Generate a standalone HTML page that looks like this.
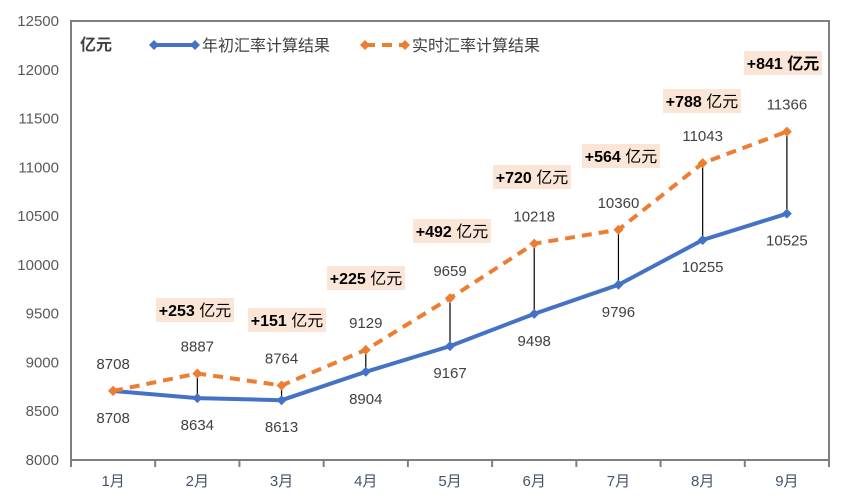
<!DOCTYPE html>
<html><head><meta charset="utf-8"><style>
body{margin:0;background:#fff;}
svg text{font-family:"Liberation Sans","Noto Sans CJK SC",sans-serif;}
</style></head><body>
<svg id="chart" width="855" height="499" xmlns="http://www.w3.org/2000/svg">
<rect x="0" y="0" width="855" height="499" fill="#fff"/>
<g id="grid"></g>
<g id="marks"></g>
</svg>
<script>
const categories=["1月","2月","3月","4月","5月","6月","7月","8月","9月"];
const initialRate=[8708,8634,8613,8904,9167,9498,9796,10255,10525];
const realtimeRate=[8708,8887,8764,9129,9659,10218,10360,11043,11366];
const diffLabels=["","+253","+151","+225","+492","+720","+564","+788","+841"];
const yTicks=[8000,8500,9000,9500,10000,10500,11000,11500,12000,12500];
const NS="http://www.w3.org/2000/svg";
const L=71,R=829,T=21,B=460,ymin=8000,ymax=12500;
const bw=(R-L)/categories.length;
const xs=i=>L+bw*(i+0.5);
const ys=v=>B-(v-ymin)/(ymax-ymin)*(B-T);
const svg=document.getElementById('marks');
function el(tag,attrs,parent){const e=document.createElementNS(NS,tag);for(const k in attrs)e.setAttribute(k,attrs[k]);(parent||svg).appendChild(e);return e;}
// frame
const frame=el('rect',{x:L,y:T,width:R-L,height:B-T,fill:'none',stroke:'#7f7f7f','stroke-width':2});


yTicks.forEach(v=>{
  const t=el('text',{x:L-12,y:ys(v)+5,'text-anchor':'end','font-size':15,fill:'#595959'});
  t.textContent=v;
  
  
});
for(let i=0;i<=categories.length;i++){
  const tk=el('line',{x1:L+bw*i,x2:L+bw*i,y1:B,y2:B+7,stroke:'#7f7f7f','stroke-width':2});
  
  
}
categories.forEach((c,i)=>{
  const t=el('text',{x:xs(i),y:B+26,'text-anchor':'middle','font-size':15,fill:'#44546a'});
  t.textContent=c;
  
  
});
// diff lines
categories.forEach((c,i)=>{
  if(realtimeRate[i]===initialRate[i])return;
  const d=el('line',{x1:xs(i),x2:xs(i),y1:ys(initialRate[i]),y2:ys(realtimeRate[i]),stroke:'#000','stroke-width':1.2});
  
  
});
function series(vals,color,dash,name){
  const p=el('polyline',{points:vals.map((v,i)=>xs(i)+','+ys(v)).join(' '),fill:'none',stroke:color,'stroke-width':4,'stroke-dasharray':dash||'none'});
  
  
  vals.forEach((v,i)=>{
    const x=xs(i),y=ys(v);
    const m=el('polygon',{points:`${x},${y-5} ${x+5},${y} ${x},${y+5} ${x-5},${y}`,fill:color});
    
    
  });
}
series(initialRate,'#4472c4',null,'initial-rate');
series(realtimeRate,'#ed7d31','10 7','realtime-rate');
initialRate.forEach((v,i)=>{
  const t=el('text',{x:xs(i),y:ys(v)+32,'text-anchor':'middle','font-size':15,fill:'#404040'});
  t.textContent=v;
  
  
});
realtimeRate.forEach((v,i)=>{
  const t=el('text',{x:xs(i),y:ys(v)-22,'text-anchor':'middle','font-size':15,fill:'#404040'});
  t.textContent=v;
  
  
});
// annotation positions (layout)
const annX=[0,195,287,366,452,532,621,702,783];
const annY=[0,310,320,278,231,177,156,101,63];
diffLabels.forEach((s,i)=>{
  if(!s)return;
  const g=el('g',{});
  
  
  el('rect',{x:annX[i]-39,y:annY[i]-12,width:78,height:24,fill:'#fbe5d6'},g);
  const t=el('text',{x:annX[i],y:annY[i]+6,'text-anchor':'middle','font-size':16,fill:'#000'},g);
  const b=el('tspan',{'font-weight':'bold'},t);b.textContent=s;
  const u=el('tspan',{'font-weight':i===8?'bold':'normal'},t);u.textContent=' 亿元';
});
// unit + legend
const unit=el('text',{x:80,y:50,'font-size':16,'font-weight':'bold',fill:'#404040'});
unit.textContent='亿元';


const lg1=el('g',{});


el('line',{x1:154,x2:195,y1:45,y2:45,stroke:'#4472c4','stroke-width':4},lg1);
el('polygon',{points:'154,40 159,45 154,50 149,45',fill:'#4472c4'},lg1);
el('polygon',{points:'195,40 200,45 195,50 190,45',fill:'#4472c4'},lg1);
const lt1=el('text',{x:202,y:51,'font-size':16,fill:'#404040'},lg1);lt1.textContent='年初汇率计算结果';
const lg2=el('g',{});


el('line',{x1:365,x2:405,y1:45,y2:45,stroke:'#ed7d31','stroke-width':4,'stroke-dasharray':'10 7'},lg2);
el('polygon',{points:'365,40 370,45 365,50 360,45',fill:'#ed7d31'},lg2);
el('polygon',{points:'405,40 410,45 405,50 400,45',fill:'#ed7d31'},lg2);
const lt2=el('text',{x:412,y:51,'font-size':16,fill:'#404040'},lg2);lt2.textContent='实时汇率计算结果';
</script>
</body></html>
